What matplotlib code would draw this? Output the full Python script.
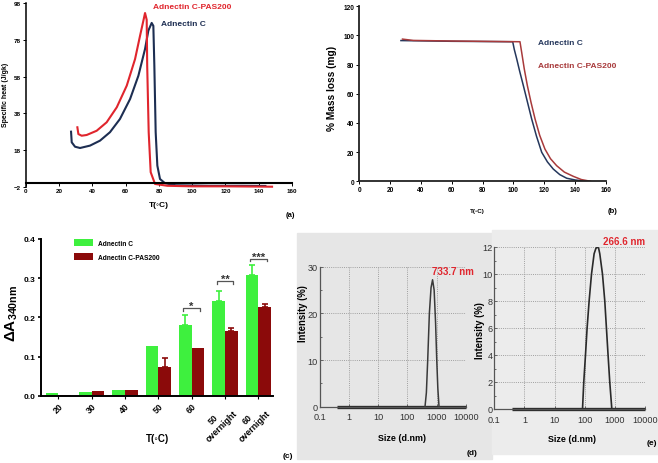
import matplotlib
matplotlib.use("Agg")
import matplotlib.pyplot as plt
import matplotlib.transforms as mtransforms
import numpy as np
from matplotlib.patches import Rectangle
from matplotlib.ticker import FixedLocator, FixedFormatter, NullLocator, MultipleLocator

plt.rcParams["font.family"] = ["Liberation Sans", "DejaVu Sans"]
plt.rcParams["mathtext.fontset"] = "custom"
plt.rcParams["mathtext.rm"] = "Liberation Sans"
plt.rcParams["mathtext.bf"] = "Liberation Sans:bold"

W, H = 658, 464

# ---------------------------------------------------------------------
#  (a) specific heat
# ---------------------------------------------------------------------
heat_T_pas = [30.9, 31.5, 33.5, 36.5, 42.5, 48.5, 54.6, 60.6, 65.6, 68.6, 70.6,
              71.6, 72.6, 72.9, 73.8, 75.0, 77.6, 85, 100, 120, 148]
heat_pas = [30.4, 26.7, 25.8, 26.2, 28.5, 33.1, 41.3, 53.1, 67.6, 80.3, 88.5,
            92.7, 89, 64, 27.7, 5.9, -0.5, -1.5, -1.8, -1.8, -2.0]
heat_T_c = [27.1, 27.5, 29.5, 32.5, 38.5, 44.5, 50.5, 56.5, 62.6, 67.6, 71.6,
            73.6, 75.6, 76.6, 77.2, 78.0, 79.0, 80.6, 83.6, 90, 110, 130, 144]
heat_c = [28.0, 22.2, 19.8, 19.1, 20.4, 23.1, 27.7, 34.9, 45.8, 58.5, 73.1,
          83.1, 87.3, 85.7, 64, 27.7, 9.5, 2.2, -0.1, -1.2, -1.5, -1.5, -1.6]
heat_yticks = [-2, 18, 38, 58, 78, 98]

# ---------------------------------------------------------------------
#  (b) mass loss
# ---------------------------------------------------------------------
tga_T_c = [27, 60, 99.5, 100.5, 102.1, 104, 106.4, 108.9, 111.8, 114.9, 118.3,
           122, 125.8, 130, 134.5, 140, 147.5]
tga_c = [96.5, 96.0, 95.7, 90.5, 83.9, 75.5, 65.6, 55, 42.7, 31, 19.9,
         13.3, 8.4, 4.6, 2.1, 0.9, 0]
tga_T_pas = [28, 35, 60, 104.2, 105.3, 107, 109, 111.4, 114, 117, 120.4, 124,
             128, 133, 138.8, 144, 150]
tga_pas = [97.5, 96.6, 96.2, 95.7, 88.5, 77, 65.6, 54, 42.7, 31.5, 22.1, 15.5,
           10.7, 6.3, 3.4, 1.2, 0]

# ---------------------------------------------------------------------
#  (c) turbidity
# ---------------------------------------------------------------------
temps = ["20", "30", "40", "50", "60", "50\novernight", "60\novernight"]
dA_c = [0.006, 0.010, 0.015, 0.128, 0.181, 0.242, 0.309]
dA_c_err = [0, 0, 0, 0, 0.025, 0.026, 0.024]
dA_pas = [0.001, 0.011, 0.015, 0.074, 0.122, 0.166, 0.227]
dA_pas_err = [0, 0, 0, 0.021, 0, 0.007, 0.007]
sig_groups = [4, 5, 6]
sig_levels = [0.224, 0.293, 0.350]
sig_marks = ["*", "**", "***"]

# ---------------------------------------------------------------------
#  (d), (e) DLS size distributions
# ---------------------------------------------------------------------
dls_ticks = [0.1, 1, 10, 100, 1000, 10000]
dls_tick_labels = ["0.1", "1", "10", "100", "1000", "10000"]
d_size = [404, 450, 500, 570, 650, 733.7, 830, 930, 1020, 1110, 1220]
d_int = [0, 3, 10, 20, 25.5, 27.2, 25, 18, 10, 4, 0]
e_size = [84.5, 93, 106, 120, 140, 168, 205, 235, 266.6, 290, 316, 388, 463,
          525, 595, 677, 793]
e_int = [0, 2, 4, 6, 8, 10, 11.5, 11.9, 12.0, 11.9, 11.5, 10, 8, 6, 4, 2, 0]
base_range = [0.38, 10000]

RED = "#e0252d"
NAVY = "#1d2e52"
RED_B = "#a83a3b"
NAVY_B = "#25375c"
GREEN = "#3ef03e"
DARKRED = "#8b0a0a"

fig = plt.figure(figsize=(W / 100, H / 100), dpi=100)


def px_axes(l, t, r, b):
    return fig.add_axes([l / W, 1 - b / H, (r - l) / W, (b - t) / H])


def px_text(x, y, s, **kw):
    kw.setdefault("fontweight", "bold")
    fig.text(x / W, 1 - y / H, s, **kw)


# gray backgrounds of the DLS screenshots (behind the axes)
fig.patches.append(Rectangle((297 / W, 1 - 460 / H), 195 / W, 226 / H,
                             transform=fig.transFigure, color="#e6e6e6", zorder=-5))
fig.patches.append(Rectangle((492 / W, 1 - 455 / H), 166 / W, 224 / H,
                             transform=fig.transFigure, color="#ececec", zorder=-5))

# ---- (a) ------------------------------------------------------------
ax = px_axes(26, 4.3, 292, 187.7)
ax.plot(heat_T_c, heat_c, color=NAVY, lw=1.5, clip_on=False)
ax.plot(heat_T_pas, heat_pas, color=RED, lw=1.5, clip_on=False)
ax.set_xlim(0, 160)
ax.set_ylim(-2, 98)
ax.set_xticks(range(0, 161, 20))
ax.set_yticks(heat_yticks)
for s in ("top", "right"):
    ax.spines[s].set_visible(False)
ax.spines["bottom"].set_position(("data", 0))
ax.spines["bottom"].set_linewidth(1.5)
ax.spines["left"].set_linewidth(1.1)
ax.tick_params(labelsize=4.5, length=2, width=0.7, pad=1.5)
for lbl in ax.get_xticklabels() + ax.get_yticklabels():
    lbl.set_fontweight("bold")
px_text(153.3, 7.5, "Adnectin C-PAS200", color=RED, fontsize=6, va="center")
px_text(161, 25, "Adnectin C", color=NAVY, fontsize=6, va="center")
px_text(6, 95, "Specific heat (J/gk)", fontsize=5, rotation=90, ha="center", va="center")
px_text(159.3, 205.5, "T(◦C)", fontsize=6, ha="center", va="center")
px_text(290, 215.3, "(a)", fontsize=5.5, ha="center", va="center")

# ---- (b) ------------------------------------------------------------
ax = px_axes(359.3, 7.3, 606, 182.3)
ax.plot(tga_T_c, tga_c, color=NAVY_B, lw=1.1)
ax.plot(tga_T_pas, tga_pas, color=RED_B, lw=1.1)
ax.set_xlim(0, 160)
ax.set_ylim(0, 120)
ax.set_xticks(range(0, 161, 20))
ax.set_yticks(range(0, 121, 20))
for s in ("top", "right"):
    ax.spines[s].set_visible(False)
for s in ("left", "bottom"):
    ax.spines[s].set_linewidth(1.3)
    ax.spines[s].set_color("#222222")
ax.tick_params(labelsize=4.7, length=2, width=0.7, pad=1.5)
for lbl in ax.get_xticklabels() + ax.get_yticklabels():
    lbl.set_fontweight("bold")
px_text(538.3, 43.3, "Adnectin C", color=NAVY_B, fontsize=6, va="center")
px_text(538.3, 66.7, "Adnectin C-PAS200", color=RED_B, fontsize=6, va="center")
px_text(332, 88, "% Mass loss (mg)", fontsize=7.3, rotation=90, ha="center", va="center")
px_text(477.3, 211.7, "T(◦C)", fontsize=4.5, ha="center", va="center")
px_text(612.3, 211.7, "(b)", fontsize=5.5, ha="center", va="center")

# ---- (c) ------------------------------------------------------------
ax = px_axes(40.7, 240, 273.3, 396.7)
x = np.arange(len(temps))
w = 0.38
ax.bar(x - w / 2, dA_c, w, color=GREEN, label="Adnectin C")
ax.bar(x + w / 2, dA_pas, w, color=DARKRED, label="Adnectin C-PAS200")
for xs, ys, es, col in ((x - w / 2, dA_c, dA_c_err, GREEN),
                        (x + w / 2, dA_pas, dA_pas_err, DARKRED)):
    m = np.array(es) > 0
    ax.errorbar(xs[m], np.array(ys)[m], yerr=[np.zeros(m.sum()), np.array(es)[m]],
                fmt="none", ecolor=col, elinewidth=1.2, capsize=2.2, capthick=1.2)
for g, lv, mk in zip(sig_groups, sig_levels, sig_marks):
    ax.plot([g - 0.25, g - 0.25, g + 0.25, g + 0.25], [lv - 0.007, lv, lv, lv - 0.007],
            color="#555555", lw=0.9)
    ax.text(g, lv - 0.003, mk, ha="center", va="baseline", fontsize=8,
            fontweight="bold", color="#333333")
ax.set_xlim(-0.528, 6.45)
ax.set_ylim(0, 0.4)
ax.set_yticks(np.arange(0, 0.41, 0.1))
ax.yaxis.set_major_formatter(FixedFormatter(["0.0", "0.1", "0.2", "0.3", "0.4"]))
ax.set_xticks(x)
ax.set_xticklabels(temps, rotation=45, ha="right", rotation_mode="anchor",
                   multialignment="center")
offset = mtransforms.ScaledTranslation(0.05, 0, fig.dpi_scale_trans)
for lbl in ax.get_xticklabels():
    lbl.set_transform(lbl.get_transform() + offset)
for s in ("top", "right"):
    ax.spines[s].set_visible(False)
for s in ("left", "bottom"):
    ax.spines[s].set_linewidth(1.4)
ax.tick_params(axis="y", labelsize=6, length=2.5, width=1.2, pad=1.5)
ax.tick_params(axis="x", labelsize=6.3, length=2, width=0.8, pad=2)
for lbl in ax.get_xticklabels() + ax.get_yticklabels():
    lbl.set_fontweight("bold")
ax.legend(loc="upper left", bbox_to_anchor=(71 / W, 1 - 237 / H),
          bbox_transform=fig.transFigure, frameon=False, borderpad=0,
          prop={"size": 4.8, "weight": "bold"}, handlelength=2.85,
          handleheight=1.05, handletextpad=0.75, labelspacing=1.0)
px_text(12, 313, r"$\mathbf{ΔA_{340nm}}$", fontsize=11, rotation=90,
        ha="center", va="center")
px_text(157.7, 439, "T(◦C)", fontsize=7, ha="center", va="center")
px_text(288.3, 456.7, "(c)", fontsize=6, ha="center", va="center")


# ---- (d), (e) -------------------------------------------------------
def dls_axes(l, t, r, b, ymax, ystep):
    a = px_axes(l, t, r, b)
    a.set_facecolor("none")
    a.set_xscale("log")
    a.set_xlim(0.1, 10000)
    a.set_ylim(0, ymax)
    a.xaxis.set_major_locator(FixedLocator(dls_ticks))
    a.xaxis.set_major_formatter(FixedFormatter(dls_tick_labels))
    a.xaxis.set_minor_locator(NullLocator())
    a.yaxis.set_major_locator(MultipleLocator(ystep))
    a.yaxis.set_minor_locator(MultipleLocator(ystep / 2))
    a.grid(True, which="major", color="#a0a0a0", lw=0.7, ls=(0, (1, 1.2)))
    for s in ("top", "right"):
        a.spines[s].set_visible(False)
    for s in ("left", "bottom"):
        a.spines[s].set_color("#555555")
        a.spines[s].set_linewidth(0.9)
    a.tick_params(labelsize=6.6, labelcolor="#333333", length=2, width=0.6,
                  direction="in", pad=1.2, color="#555555")
    a.tick_params(axis="x", pad=4)
    a.tick_params(which="minor", length=1.5, width=0.6, direction="in", color="#555555")
    a.plot(base_range, [0, 0], color="#2a2a2a", lw=2.4, solid_capstyle="butt",
           clip_on=False)
    return a


ax = dls_axes(319.7, 267.7, 465.7, 407.7, 30, 10)
ax.plot(d_size, d_int, color="#3a3a3a", lw=1.1)
px_text(431.7, 272.3, "733.7 nm", color=RED, fontsize=7, va="center")
px_text(303, 314, "Intensity (%)", fontsize=6.9, rotation=90, ha="center", va="center")
px_text(401.7, 438.3, "Size (d.nm)", fontsize=6.4, ha="center", va="center")
px_text(471.7, 453.3, "(d)", fontsize=6, ha="center", va="center")

ax = dls_axes(494.3, 248, 645, 410, 12, 2)
ax.plot(e_size, e_int, color="#2a2a2a", lw=1.2)
px_text(602.7, 241.7, "266.6 nm", color=RED, fontsize=7, va="center")
px_text(480, 331, "Intensity (%)", fontsize=6.9, rotation=90, ha="center", va="center")
px_text(571.7, 440, "Size (d.nm)", fontsize=6.4, ha="center", va="center")
px_text(652, 444, "(e)", fontsize=6, ha="center", va="center")

fig.savefig("out.png", dpi=100)
